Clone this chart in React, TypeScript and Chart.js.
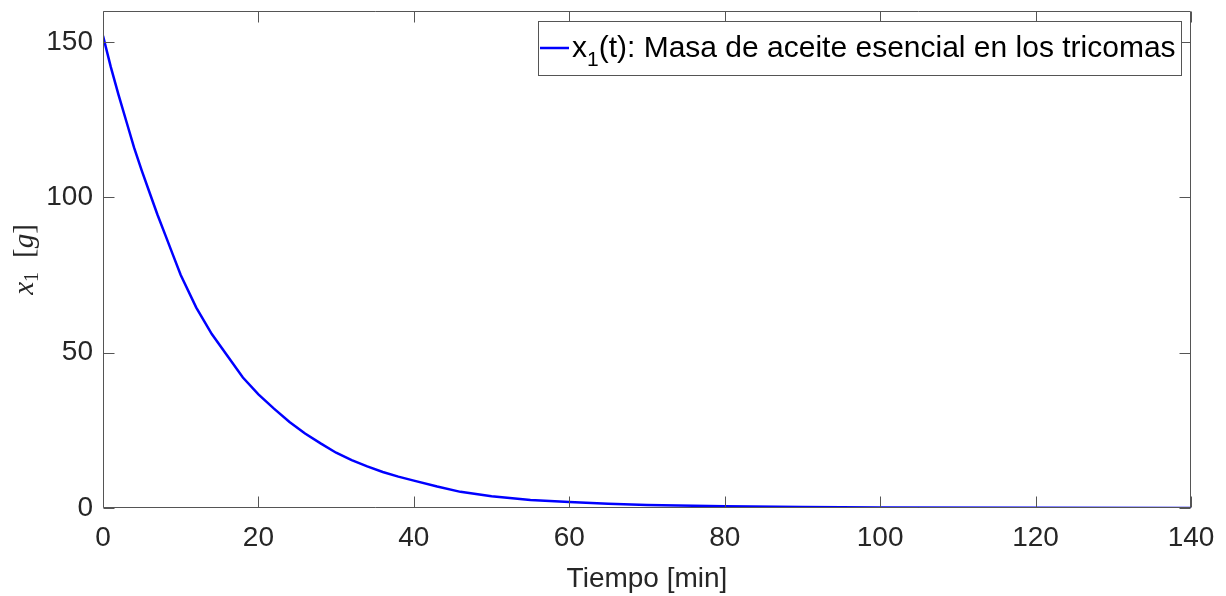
import React, { useEffect, useRef } from "react";
import { Chart, registerables } from "chart.js";

Chart.register(...registerables);

// ---- Data ----
const timeMin = [0, 1, 2, 3, 4, 5, 6, 7, 8, 9, 10, 12, 14, 16, 18, 20, 22, 24, 26, 28, 30, 32, 34, 36, 38, 40, 43, 46, 50, 55, 60, 65, 70, 80, 90, 100, 120, 140];
const massX1 = [152, 142, 133, 124.5, 116, 108.5, 101.5, 94.5, 88, 81.5, 75, 64.5, 56, 49, 42, 36.6, 32, 27.7, 24, 20.8, 17.8, 15.4, 13.4, 11.6, 10.1, 8.8, 6.9, 5.2, 3.8, 2.6, 1.9, 1.4, 1.0, 0.6, 0.3, 0.15, 0.05, 0.01];

const xTickValues = [0, 20, 40, 60, 80, 100, 120, 140];
const yTickValues = [0, 50, 100, 150];
const xLimits = [0, 140];
const yLimits = [0, 160];

const legendMain = "x";
const legendSub = "1";
const legendRest = "(t): Masa de aceite esencial en los tricomas";
const xTitle = "Tiempo [min]";
const yTitleVar = "x";
const yTitleSub = "1";
const yTitleUnitOpen = "[";
const yTitleUnit = "g";
const yTitleUnitClose = "]";

// ---- Styles ----
const SANS = '"Liberation Sans", Arial, Helvetica, sans-serif';
const SERIF = '"Liberation Serif", "Times New Roman", serif';
const TEXT_COLOR = "#262626";
const AXIS_COLOR = "#555555";
const LINE_COLOR = "#0000ff";
const TICK_LEN = 11;

const matlabPlugin = {
  id: "matlabDecor",
  afterDatasetsDraw(chart: any) {
    const { ctx, chartArea: a, scales } = chart;
    const L = Math.round(a.left) + 0.5;
    const R = Math.round(a.right) - 0.5;
    const T = Math.round(a.top) + 0.5;
    const B = Math.round(a.bottom) - 0.5;
    ctx.save();
    ctx.strokeStyle = AXIS_COLOR;
    ctx.lineWidth = 1;
    ctx.beginPath();
    ctx.rect(L, T, R - L, B - T);
    ctx.stroke();
    ctx.beginPath();
    for (const v of xTickValues) {
      const px = Math.round(scales.x.getPixelForValue(v)) + 0.5;
      ctx.moveTo(px, B);
      ctx.lineTo(px, B - TICK_LEN);
      ctx.moveTo(px, T);
      ctx.lineTo(px, T + TICK_LEN);
    }
    for (const v of yTickValues) {
      const py = Math.round(scales.y.getPixelForValue(v)) + 0.5;
      ctx.moveTo(L, py);
      ctx.lineTo(L + TICK_LEN, py);
      ctx.moveTo(R, py);
      ctx.lineTo(R - TICK_LEN, py);
    }
    ctx.stroke();

    // Legend
    const fs = 30;
    const subFs = 21;
    ctx.font = `${fs}px ${SANS}`;
    const wMain = ctx.measureText(legendMain).width;
    const wRest = ctx.measureText(legendRest).width;
    ctx.font = `${subFs}px ${SANS}`;
    const wSub = ctx.measureText(legendSub).width;
    const lineLen = 29;
    const padL = 2;
    const gap = 3;
    const padR = 6;
    const boxW = padL + lineLen + gap + wMain + wSub + wRest + padR;
    const boxR = Math.round(a.right) - 9;
    const boxL = Math.round(boxR - boxW);
    const boxT = Math.round(a.top) + 10;
    const boxH = 55;
    ctx.fillStyle = "#ffffff";
    ctx.fillRect(boxL, boxT, boxR - boxL, boxH);
    ctx.strokeStyle = AXIS_COLOR;
    ctx.lineWidth = 1;
    ctx.strokeRect(boxL + 0.5, boxT + 0.5, boxR - boxL - 1, boxH - 1);
    const midY = boxT + 27;
    ctx.strokeStyle = LINE_COLOR;
    ctx.lineWidth = 2.5;
    ctx.beginPath();
    ctx.moveTo(boxL + padL, midY);
    ctx.lineTo(boxL + padL + lineLen, midY);
    ctx.stroke();
    const baseY = boxT + 36;
    let tx = boxL + padL + lineLen + gap;
    ctx.fillStyle = "#000000";
    ctx.textBaseline = "alphabetic";
    ctx.textAlign = "left";
    ctx.font = `${fs}px ${SANS}`;
    ctx.fillText(legendMain, tx, baseY);
    tx += wMain;
    ctx.font = `${subFs}px ${SANS}`;
    ctx.fillText(legendSub, tx, baseY + 9);
    tx += wSub;
    ctx.font = `${fs}px ${SANS}`;
    ctx.fillText(legendRest, tx, baseY);
    ctx.restore();
  },
  afterDraw(chart: any) {
    const { ctx, chartArea: a } = chart;
    ctx.save();
    // X title
    ctx.fillStyle = TEXT_COLOR;
    ctx.font = `28px ${SANS}`;
    ctx.textAlign = "center";
    ctx.textBaseline = "alphabetic";
    ctx.fillText(xTitle, (a.left + a.right) / 2, 587);

    // Y title (rotated, LaTeX-like)
    const f = 29;
    const fsub = 20;
    ctx.font = `italic ${f}px ${SERIF}`;
    const wx = ctx.measureText(yTitleVar).width;
    const wg = ctx.measureText(yTitleUnit).width;
    ctx.font = `${fsub}px ${SERIF}`;
    const w1 = ctx.measureText(yTitleSub).width;
    ctx.font = `${f}px ${SERIF}`;
    const wo = ctx.measureText(yTitleUnitOpen).width;
    const wc = ctx.measureText(yTitleUnitClose).width;
    const space = 14;
    const total = wx + w1 + space + wo + wg + wc;
    const cy = (a.top + a.bottom) / 2;
    ctx.translate(33, cy);
    ctx.rotate(-Math.PI / 2);
    ctx.textAlign = "left";
    let x = -total / 2;
    ctx.font = `italic ${f}px ${SERIF}`;
    ctx.fillText(yTitleVar, x, 0);
    x += wx;
    ctx.font = `${fsub}px ${SERIF}`;
    ctx.fillText(yTitleSub, x, 5);
    x += w1 + space;
    ctx.font = `${f}px ${SERIF}`;
    ctx.fillText(yTitleUnitOpen, x, 0);
    x += wo;
    ctx.font = `italic ${f}px ${SERIF}`;
    ctx.fillText(yTitleUnit, x, 0);
    x += wg;
    ctx.font = `${f}px ${SERIF}`;
    ctx.fillText(yTitleUnitClose, x, 0);
    ctx.restore();
  },
};

export default function App() {
  const canvasRef = useRef<HTMLCanvasElement | null>(null);

  useEffect(() => {
    const canvas = canvasRef.current;
    if (!canvas) return;
    const points = timeMin.map((t, i) => ({ x: t, y: massX1[i] }));
    const chart = new Chart(canvas, {
      type: "line",
      data: {
        datasets: [
          {
            label: legendMain + legendSub + legendRest,
            data: points,
            borderColor: LINE_COLOR,
            borderWidth: 2.5,
            pointRadius: 0,
            tension: 0,
            fill: false,
          },
        ],
      },
      options: {
        animation: false,
        responsive: false,
        devicePixelRatio: 1,
        layout: { padding: { top: 11, right: 35, left: 0, bottom: 0 } },
        plugins: {
          legend: { display: false },
          tooltip: { enabled: false },
        },
        scales: {
          x: {
            type: "linear",
            min: xLimits[0],
            max: xLimits[1],
            grid: { display: false, drawTicks: false },
            border: { display: false },
            afterBuildTicks: (s: any) => {
              s.ticks = xTickValues.map((value) => ({ value }));
            },
            afterFit: (s: any) => {
              s.height = 88;
              s.paddingLeft = 0;
              s.paddingRight = 0;
            },
            ticks: {
              autoSkip: false,
              maxRotation: 0,
              padding: 13,
              color: TEXT_COLOR,
              font: { family: SANS, size: 28 },
            },
          },
          y: {
            type: "linear",
            min: yLimits[0],
            max: yLimits[1],
            grid: { display: false, drawTicks: false },
            border: { display: false },
            afterBuildTicks: (s: any) => {
              s.ticks = yTickValues.map((value) => ({ value }));
            },
            afterFit: (s: any) => {
              s.width = 103;
              s.paddingTop = 0;
              s.paddingBottom = 0;
            },
            ticks: {
              autoSkip: false,
              padding: 10,
              color: TEXT_COLOR,
              font: { family: SANS, size: 28 },
            },
          },
        },
      },
      plugins: [matlabPlugin],
    });
    return () => chart.destroy();
  }, []);

  return (
    <div style={{ position: "absolute", left: 0, top: 0, width: 1226, height: 596, background: "#ffffff" }}>
      <canvas ref={canvasRef} width={1226} height={596} style={{ display: "block" }} />
    </div>
  );
}
